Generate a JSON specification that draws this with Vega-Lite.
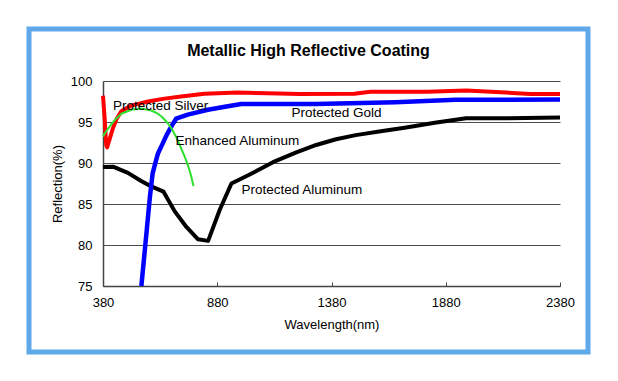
{
  "$schema": "https://vega.github.io/schema/vega-lite/v6.json",
  "width": 559,
  "height": 323,
  "autosize": "none",
  "padding": {"left": 29, "top": 29, "right": 30, "bottom": 29},
  "background": "white",
  "config": {
    "font": "Liberation Sans",
    "view": {"stroke": "#5FA8EA", "strokeWidth": 5},
    "axis": {"labelFont": "Liberation Sans", "titleFont": "Liberation Sans", "labelColor": "#000", "titleColor": "#000", "titleFontWeight": "normal"}
  },
  "title": {
    "text": "Metallic High Reflective Coating",
    "font": "Liberation Sans",
    "fontSize": 16,
    "fontWeight": "bold",
    "color": "#000",
    "anchor": "middle",
    "frame": "group",
    "baseline": "alphabetic",
    "offset": -43
  },
  "datasets": {
    "curves": [
      {"series": "Protected Aluminum", "wl": 380, "r": 89.5},
      {"series": "Protected Aluminum", "wl": 424, "r": 89.55},
      {"series": "Protected Aluminum", "wl": 455, "r": 89.2},
      {"series": "Protected Aluminum", "wl": 489, "r": 88.8},
      {"series": "Protected Aluminum", "wl": 547, "r": 87.8},
      {"series": "Protected Aluminum", "wl": 591, "r": 87.15},
      {"series": "Protected Aluminum", "wl": 645, "r": 86.5},
      {"series": "Protected Aluminum", "wl": 694, "r": 84.1},
      {"series": "Protected Aluminum", "wl": 745, "r": 82.2},
      {"series": "Protected Aluminum", "wl": 796, "r": 80.7},
      {"series": "Protected Aluminum", "wl": 840, "r": 80.5},
      {"series": "Protected Aluminum", "wl": 891, "r": 84.3},
      {"series": "Protected Aluminum", "wl": 942, "r": 87.5},
      {"series": "Protected Aluminum", "wl": 1022, "r": 88.6},
      {"series": "Protected Aluminum", "wl": 1124, "r": 90.1},
      {"series": "Protected Aluminum", "wl": 1226, "r": 91.3},
      {"series": "Protected Aluminum", "wl": 1313, "r": 92.2},
      {"series": "Protected Aluminum", "wl": 1400, "r": 92.9},
      {"series": "Protected Aluminum", "wl": 1486, "r": 93.4},
      {"series": "Protected Aluminum", "wl": 1603, "r": 93.9},
      {"series": "Protected Aluminum", "wl": 1700, "r": 94.3},
      {"series": "Protected Aluminum", "wl": 1832, "r": 94.9},
      {"series": "Protected Aluminum", "wl": 1969, "r": 95.45},
      {"series": "Protected Aluminum", "wl": 2100, "r": 95.45},
      {"series": "Protected Aluminum", "wl": 2380, "r": 95.55},
      {"series": "Protected Gold", "wl": 548, "r": 75},
      {"series": "Protected Gold", "wl": 560, "r": 78.5},
      {"series": "Protected Gold", "wl": 572, "r": 82.0},
      {"series": "Protected Gold", "wl": 585, "r": 85.8},
      {"series": "Protected Gold", "wl": 597, "r": 88.7},
      {"series": "Protected Gold", "wl": 609, "r": 90.0},
      {"series": "Protected Gold", "wl": 621, "r": 91.2},
      {"series": "Protected Gold", "wl": 640, "r": 92.3},
      {"series": "Protected Gold", "wl": 660, "r": 93.5},
      {"series": "Protected Gold", "wl": 680, "r": 94.5},
      {"series": "Protected Gold", "wl": 700, "r": 95.4},
      {"series": "Protected Gold", "wl": 751, "r": 95.9},
      {"series": "Protected Gold", "wl": 839, "r": 96.5},
      {"series": "Protected Gold", "wl": 920, "r": 96.9},
      {"series": "Protected Gold", "wl": 985, "r": 97.2},
      {"series": "Protected Gold", "wl": 1313, "r": 97.2},
      {"series": "Protected Gold", "wl": 1659, "r": 97.4},
      {"series": "Protected Gold", "wl": 1924, "r": 97.7},
      {"series": "Protected Gold", "wl": 2380, "r": 97.75},
      {"series": "Protected Silver", "wl": 380, "r": 98.2},
      {"series": "Protected Silver", "wl": 387, "r": 95.5},
      {"series": "Protected Silver", "wl": 394, "r": 92.2},
      {"series": "Protected Silver", "wl": 398, "r": 91.9},
      {"series": "Protected Silver", "wl": 410, "r": 93.0},
      {"series": "Protected Silver", "wl": 424, "r": 94.3},
      {"series": "Protected Silver", "wl": 440, "r": 95.4},
      {"series": "Protected Silver", "wl": 460, "r": 96.3},
      {"series": "Protected Silver", "wl": 504, "r": 97.0},
      {"series": "Protected Silver", "wl": 577, "r": 97.5},
      {"series": "Protected Silver", "wl": 649, "r": 97.85},
      {"series": "Protected Silver", "wl": 722, "r": 98.1},
      {"series": "Protected Silver", "wl": 824, "r": 98.45},
      {"series": "Protected Silver", "wl": 970, "r": 98.6},
      {"series": "Protected Silver", "wl": 1100, "r": 98.5},
      {"series": "Protected Silver", "wl": 1240, "r": 98.4},
      {"series": "Protected Silver", "wl": 1480, "r": 98.45},
      {"series": "Protected Silver", "wl": 1550, "r": 98.7},
      {"series": "Protected Silver", "wl": 1800, "r": 98.7},
      {"series": "Protected Silver", "wl": 1969, "r": 98.85},
      {"series": "Protected Silver", "wl": 2080, "r": 98.7},
      {"series": "Protected Silver", "wl": 2250, "r": 98.4},
      {"series": "Protected Silver", "wl": 2380, "r": 98.4},
      {"series": "Enhanced Aluminum", "wl": 380, "r": 93.25},
      {"series": "Enhanced Aluminum", "wl": 395, "r": 93.9},
      {"series": "Enhanced Aluminum", "wl": 416, "r": 94.7},
      {"series": "Enhanced Aluminum", "wl": 437, "r": 95.4},
      {"series": "Enhanced Aluminum", "wl": 460, "r": 96.0},
      {"series": "Enhanced Aluminum", "wl": 504, "r": 96.5},
      {"series": "Enhanced Aluminum", "wl": 547, "r": 96.65},
      {"series": "Enhanced Aluminum", "wl": 591, "r": 96.4},
      {"series": "Enhanced Aluminum", "wl": 615, "r": 96.1},
      {"series": "Enhanced Aluminum", "wl": 635, "r": 95.7},
      {"series": "Enhanced Aluminum", "wl": 656, "r": 95.1},
      {"series": "Enhanced Aluminum", "wl": 678, "r": 94.3},
      {"series": "Enhanced Aluminum", "wl": 700, "r": 93.2},
      {"series": "Enhanced Aluminum", "wl": 722, "r": 91.8},
      {"series": "Enhanced Aluminum", "wl": 737, "r": 90.8},
      {"series": "Enhanced Aluminum", "wl": 751, "r": 89.8},
      {"series": "Enhanced Aluminum", "wl": 765, "r": 88.5},
      {"series": "Enhanced Aluminum", "wl": 776, "r": 87.2}
    ],
    "labels": [
      {"label": "Protected Silver", "wl": 424, "r": 97.0},
      {"label": "Protected Gold", "wl": 1205, "r": 96.05},
      {"label": "Enhanced Aluminum", "wl": 697, "r": 92.7},
      {"label": "Protected Aluminum", "wl": 986, "r": 86.7}
    ]
  },
  "layer": [
    {
      "data": {"name": "curves"},
      "mark": {"type": "line", "strokeCap": "butt", "strokeJoin": "round"},
      "encoding": {
        "x": {
          "field": "wl", "type": "quantitative",
          "scale": {"domain": [380, 2380], "range": [74, 531], "nice": false, "zero": false},
          "axis": {
            "title": "Wavelength(nm)", "titleFontSize": 13, "titlePadding": 9,
            "values": [380, 880, 1380, 1880, 2380], "format": "d", "labelFontSize": 13,
            "grid": false, "offset": -66, "domainColor": "#444", "domainWidth": 1.5,
            "tickColor": "#444", "tickSize": -4, "labelPadding": 14, "labelFlush": false
          }
        },
        "y": {
          "field": "r", "type": "quantitative",
          "scale": {"domain": [75, 100], "range": [257, 52], "nice": false, "zero": false},
          "axis": {
            "title": "Reflection(%)", "titleFontSize": 13, "titlePadding": 6,
            "values": [75, 80, 85, 90, 95, 100], "labelFontSize": 13,
            "ticks": false, "labelPadding": 11, "offset": -74,
            "grid": true, "gridColor": "#4d4d4d", "gridWidth": 1,
            "domainColor": "#444", "domainWidth": 1.5
          }
        },
        "color": {
          "field": "series", "type": "nominal", "legend": null,
          "scale": {"domain": ["Protected Aluminum", "Protected Gold", "Protected Silver", "Enhanced Aluminum"], "range": ["#000000", "#0000FF", "#FF0000", "#2EE02E"]}
        },
        "strokeWidth": {
          "field": "series", "type": "nominal", "legend": null,
          "scale": {"type": "ordinal", "domain": ["Protected Aluminum", "Protected Gold", "Protected Silver", "Enhanced Aluminum"], "range": [4, 4.5, 4, 2]}
        }
      }
    },
    {
      "data": {"name": "labels"},
      "mark": {"type": "text", "align": "left", "baseline": "middle", "fontSize": 13.5, "font": "Liberation Sans", "color": "#000"},
      "encoding": {
        "x": {"field": "wl", "type": "quantitative"},
        "y": {"field": "r", "type": "quantitative"},
        "text": {"field": "label"}
      }
    }
  ]
}
